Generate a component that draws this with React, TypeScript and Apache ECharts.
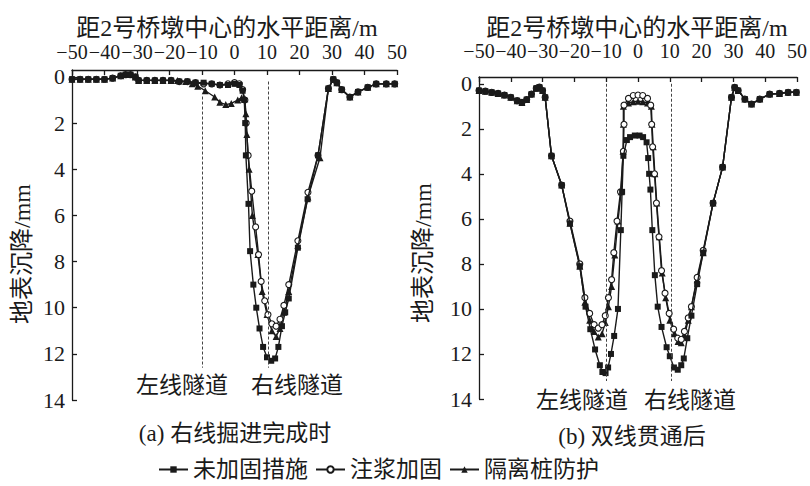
import React, { useEffect, useRef } from "react";
import * as echarts from "echarts";

const SERIES_NAMES = ["未加固措施", "注浆加固", "隔离桩防护"];
const Y_TICKS = [0, 2, 4, 6, 8, 10, 12, 14];
const TUNNEL_X = [-10, 10.5];
const X_TITLE = "距2号桥墩中心的水平距离/m";
const Y_TITLE = "地表沉降/mm";
const TUNNEL_LABELS = ["左线隧道", "右线隧道"];
const SUBTITLES = ["(a) 右线掘进完成时", "(b) 双线贯通后"];

// panel (a): after right-line excavation
const aUntreated = [[-50,0.1],[-47.5,0.1],[-45,0.1],[-42.5,0.1],[-40,0.1],[-37.5,0.05],[-35,-0.05],[-33.5,-0.1],[-32,-0.1],[-30.5,0],[-29.5,0.15],[-27,0.15],[-24.5,0.15],[-22,0.15],[-19.5,0.15],[-17,0.2],[-14.5,0.2],[-12,0.25],[-9.5,0.25],[-7,0.3],[-4.5,0.35],[-2,0.35],[0,0.3],[1.5,0.35],[2.5,0.6],[3,1.0],[3.3,2.0],[3.5,3.4],[4.3,5.5],[4.8,7.55],[5.8,9.0],[6.7,10.0],[7.7,10.9],[8.8,11.7],[10,12.15],[11.3,12.3],[12.5,12.2],[13.5,11.7],[14.6,10.8],[15.6,10.2],[16.7,9.6],[19.5,7.4],[22.5,5.3],[25.7,3.4],[28.9,0.5],[30.4,0.1],[31.5,0.25],[33,0.55],[35.5,0.87],[38,0.65],[41,0.45],[43.6,0.3],[46.7,0.3],[49.3,0.3]];
const aGrouting = [[-50,0.1],[-47.5,0.1],[-45,0.1],[-42.5,0.1],[-40,0.1],[-37.5,0.05],[-35,-0.05],[-33.5,-0.1],[-32,-0.1],[-30.5,0],[-29.5,0.15],[-27,0.15],[-24.5,0.15],[-22,0.15],[-19.5,0.15],[-17,0.2],[-14.5,0.2],[-12,0.25],[-9.5,0.3],[-7,0.3],[-4.5,0.35],[-2,0.3],[0,0.25],[1.5,0.3],[2.5,0.55],[3.2,1.0],[3.6,2.0],[4.2,3.4],[5.3,4.95],[6.5,6.5],[7.4,7.7],[8.2,8.86],[9.3,9.7],[10.3,10.3],[11.5,10.7],[12.8,10.8],[14,10.5],[15.2,9.9],[16.7,9.0],[19.5,7.1],[22.6,5.0],[25.7,3.4],[28.9,0.5],[30.4,0.1],[31.5,0.25],[33,0.55],[35.5,0.87],[38,0.65],[41,0.45],[43.6,0.3],[46.7,0.3],[49.3,0.3]];
const aPile = [[-50,0.1],[-47.5,0.1],[-45,0.1],[-42.5,0.1],[-40,0.1],[-37.5,0.05],[-35,-0.05],[-33.5,-0.1],[-32,-0.1],[-30.5,0],[-29.5,0.15],[-27,0.15],[-24.5,0.15],[-22,0.15],[-19.5,0.15],[-17.5,0.15],[-15,0.2],[-13,0.3],[-11.3,0.4],[-9,0.6],[-6.1,0.87],[-4.5,1.1],[-2.7,1.2],[-1,1.15],[1,1.0],[2.2,0.9],[3.2,0.95],[3.5,1.6],[3.8,2.5],[4.5,4.0],[5.5,6.0],[7.2,7.7],[8.5,9.3],[10,10.3],[11.5,11.0],[12.8,11.25],[14,10.9],[15.2,10.2],[16.7,9.3],[19.5,7.3],[22.6,5.2],[26.3,3.5],[28.9,0.5],[30.4,0.1],[31.5,0.25],[33,0.55],[35.5,0.87],[38,0.65],[41,0.45],[43.6,0.3],[46.7,0.3],[49.3,0.3]];

// panel (b): after both lines broke through
const bUntreated = [[-50,0.3],[-48,0.33],[-46,0.38],[-44,0.43],[-42,0.5],[-40,0.6],[-38,0.75],[-36.5,0.83],[-35,0.7],[-33.5,0.46],[-32,0.2],[-31,0.15],[-30,0.3],[-29.2,0.6],[-27.2,3.2],[-24,4.5],[-21.4,6.2],[-18.3,8.1],[-16.5,9.9],[-15,10.9],[-13.5,11.8],[-12,12.5],[-11.2,12.8],[-10.2,12.85],[-9.4,12.6],[-8.5,12.0],[-7.5,11.2],[-6.3,10.0],[-5.4,6.5],[-5.0,4.8],[-4.6,3.2],[-3.5,2.5],[-2.5,2.37],[-1,2.3],[0.5,2.3],[1.6,2.37],[2.7,2.6],[3.2,3.3],[3.5,4.0],[3.9,4.7],[4.5,6.5],[5.3,8.5],[6.2,9.9],[7.4,10.8],[9,11.7],[10,12.1],[11.3,12.6],[12.5,12.7],[13.6,12.5],[14.4,12.2],[15.5,11.3],[16.8,10.3],[18.6,8.9],[20.5,7.5],[23.6,5.3],[26.6,3.7],[29.4,0.6],[30.4,0.16],[31.5,0.3],[33.6,0.68],[35.7,0.9],[38.3,0.68],[41.4,0.46],[44.5,0.43],[47.2,0.38],[49.8,0.38]];
const bGrouting = [[-50,0.3],[-48,0.33],[-46,0.38],[-44,0.43],[-42,0.5],[-40,0.6],[-38,0.75],[-36.5,0.83],[-35,0.7],[-33.5,0.46],[-32,0.2],[-31,0.15],[-30,0.3],[-29.2,0.6],[-27.2,3.2],[-24,4.5],[-21.4,6.1],[-18.3,8.0],[-16.7,9.5],[-15.2,10.2],[-13.8,10.7],[-12.5,10.85],[-11.3,10.7],[-10.3,10.3],[-9.3,9.5],[-8.3,8.7],[-7.6,7.5],[-6.6,6.1],[-5.5,4.8],[-4.6,3.0],[-4.4,1.8],[-4.4,0.95],[-3,0.65],[-1.5,0.52],[0,0.5],[1.5,0.52],[3,0.65],[4.0,0.95],[4.3,1.8],[4.6,2.8],[5.2,4.0],[5.8,5.3],[6.6,6.8],[7.4,8.3],[8.5,9.3],[9.8,10.2],[11.2,10.9],[12.5,11.3],[13.6,11.35],[14.6,11.0],[15.8,10.4],[16.8,9.9],[18.6,8.6],[20.5,7.4],[23.6,5.3],[26.6,3.7],[29.4,0.6],[30.4,0.16],[31.5,0.3],[33.6,0.68],[35.7,0.9],[38.3,0.68],[41.4,0.46],[44.5,0.43],[47.2,0.38],[49.8,0.38]];
const bPile = [[-50,0.3],[-48,0.33],[-46,0.38],[-44,0.43],[-42,0.5],[-40,0.6],[-38,0.75],[-36.5,0.83],[-35,0.7],[-33.5,0.46],[-32,0.2],[-31,0.15],[-30,0.3],[-29.2,0.6],[-27.2,3.2],[-24,4.5],[-21.4,6.2],[-18.3,8.1],[-16.7,9.7],[-15.2,10.5],[-13.8,11.0],[-12.5,11.25],[-11.3,11.1],[-10.3,10.6],[-9.3,9.9],[-8.3,9.0],[-7.3,7.6],[-6.3,6.1],[-5.3,4.8],[-4.7,3.0],[-4.6,1.8],[-4.6,1.0],[-3,0.85],[-1.5,0.8],[0,0.78],[1.5,0.8],[3,0.85],[4.2,1.0],[4.4,1.8],[4.8,2.8],[5.3,4.0],[5.9,5.3],[6.7,6.8],[7.6,8.4],[8.7,9.5],[10,10.5],[11.4,11.1],[12.6,11.45],[13.6,11.5],[14.6,11.2],[15.8,10.5],[16.8,9.9],[18.6,8.7],[20.5,7.5],[23.6,5.3],[26.6,3.7],[29.4,0.6],[30.4,0.16],[31.5,0.3],[33.6,0.68],[35.7,0.9],[38.3,0.68],[41.4,0.46],[44.5,0.43],[47.2,0.38],[49.8,0.38]];

const FONT = "'Liberation Serif', 'Noto Sans CJK SC', serif";
const INK = "#1a1a1a";

function fmtX(v: number) {
  return v < 0 ? "\u2212" + Math.abs(v) : String(v);
}

function makeXAxis(gridIndex: number) {
  return {
    gridIndex,
    type: "value",
    position: "top",
    min: -50,
    max: 50,
    interval: 10,
    axisLine: { show: true, onZero: false, lineStyle: { color: INK, width: 1.3 } },
    axisTick: { show: true, inside: true, length: 5, lineStyle: { color: INK, width: 1.3 } },
    axisLabel: {
      formatter: fmtX,
      fontSize: 20,
      fontFamily: FONT,
      color: INK,
      margin: gridIndex === 0 ? 8 : 16,
      hideOverlap: false,
      showMinLabel: true,
      showMaxLabel: true,
    },
    splitLine: { show: false },
  };
}

function makeYAxis(gridIndex: number) {
  return {
    gridIndex,
    type: "value",
    inverse: true,
    min: -0.3,
    max: 14,
    axisLine: { show: true, onZero: false, lineStyle: { color: INK, width: 1.3 } },
    axisTick: { show: true, inside: true, length: 5, customValues: Y_TICKS, lineStyle: { color: INK, width: 1.3 } },
    axisLabel: { customValues: Y_TICKS, fontSize: 22, fontFamily: FONT, color: INK, margin: 7, hideOverlap: false },
    splitLine: { show: false },
  };
}

const MARKERS = [
  { symbol: "rect", size: 6, itemStyle: { color: INK } },
  { symbol: "circle", size: 6, itemStyle: { color: "#fff", borderColor: INK, borderWidth: 1.1 } },
  { symbol: "triangle", size: 7, itemStyle: { color: INK } },
];

function makeSeries(name: string, idx: number, data: number[][], grid: number, markTop: number[], markBottoms: number[]) {
  const m = MARKERS[idx];
  const s: any = {
    name,
    type: "line",
    xAxisIndex: grid,
    yAxisIndex: grid,
    data,
    symbol: m.symbol,
    symbolSize: m.size,
    itemStyle: m.itemStyle,
    lineStyle: { color: INK, width: 1.4 },
    z: 3 - idx,
  };
  if (idx === 0) {
    s.markLine = {
      silent: true,
      symbol: "none",
      label: { show: false },
      lineStyle: { color: "#444", type: [3, 2], width: 1 },
      data: TUNNEL_X.map((tx, i) => [
        { coord: [tx, markTop[i]] },
        { coord: [tx, markBottoms[i]] },
      ]),
    };
  }
  return s;
}

function txt(text: string, x: number, y: number, fontSize: number, rotation = 0) {
  return {
    type: "text",
    x,
    y,
    rotation,
    style: {
      text,
      fontSize,
      fontFamily: FONT,
      fill: INK,
      align: "center",
      verticalAlign: "middle",
      textAlign: "center",
      textVerticalAlign: "middle",
    },
  };
}

export default function App() {
  const ref = useRef<HTMLDivElement>(null);
  useEffect(() => {
    if (!ref.current) return;
    const chart = echarts.init(ref.current, null, { renderer: "svg" });
    const aData = [aUntreated, aGrouting, aPile];
    const bData = [bUntreated, bGrouting, bPile];
    const series: any[] = [];
    SERIES_NAMES.forEach((n, i) => series.push(makeSeries(n, i, aData[i], 0, [0.85, 0.2], [12.6, 12.6])));
    SERIES_NAMES.forEach((n, i) => series.push(makeSeries(n, i, bData[i], 1, [0.0, 0.0], [13.2, 13.2])));
    chart.setOption({
      animation: false,
      backgroundColor: "#fff",
      grid: [
        { left: 72, right: 413, top: 70, bottom: 86 },
        { left: 479, right: 13, top: 77, bottom: 87 },
      ],
      xAxis: [makeXAxis(0), makeXAxis(1)],
      yAxis: [makeYAxis(0), makeYAxis(1)],
      legend: {
        data: SERIES_NAMES,
        left: 153,
        top: 453,
        itemWidth: 29,
        itemHeight: 8,
        itemGap: 7,
        textStyle: { fontSize: 23, fontFamily: FONT, color: INK },
      },
      graphic: [
        txt(X_TITLE, 227, 28, 24),
        txt(X_TITLE, 637, 28, 24),
        txt(Y_TITLE, 22, 254, 24, Math.PI / 2),
        txt(Y_TITLE, 423, 253, 24, Math.PI / 2),
        txt(TUNNEL_LABELS[0], 182, 385, 23),
        txt(TUNNEL_LABELS[1], 297, 385, 23),
        txt(TUNNEL_LABELS[0], 582, 400, 23),
        txt(TUNNEL_LABELS[1], 690, 400, 23),
        txt(SUBTITLES[0], 235, 433, 23),
        txt(SUBTITLES[1], 632, 436, 23),
      ],
      series,
    });
    return () => chart.dispose();
  }, []);
  return <div ref={ref} style={{ position: "fixed", left: 0, top: 0, width: 810, height: 486 }} />;
}
